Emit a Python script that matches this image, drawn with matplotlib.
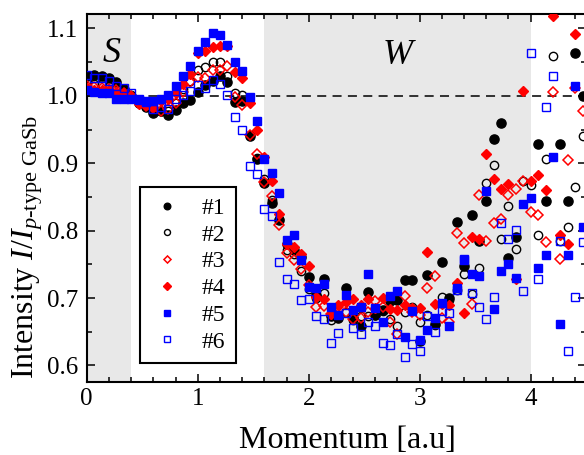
import numpy as np
import matplotlib
import matplotlib.pyplot as plt
from matplotlib.ticker import MultipleLocator, FormatStrFormatter

matplotlib.use('agg')

plt.rcParams['font.family'] = ['Liberation Serif', 'DejaVu Serif']
plt.rcParams['mathtext.fontset'] = 'custom'
plt.rcParams['mathtext.rm'] = 'Liberation Serif'
plt.rcParams['mathtext.it'] = 'Liberation Serif:italic'

nan = np.nan
momentum = np.arange(68) / 15.0

s1 = [1.03, 1.031, 1.03, 1.027, 1.02, 1.01, 1.0, 0.989, 0.983, 0.975,
      0.978, 0.972, 0.979, 0.989, 0.994, 1.005, 1.016, 1.022, 1.029, 1.021,
      0.991, 0.993, 0.94, 0.906, 0.871, 0.841, 0.816, 0.78, 0.771, 0.761,
      0.731, 0.705, 0.729, 0.673, 0.67, 0.715, 0.67, 0.659, 0.709, 0.675,
      0.682, 0.696, 0.697, 0.727, 0.727, 0.636, 0.734, 0.661, 0.753, 0.7,
      0.813, 0.748, 0.823, 0.785, 0.844, 0.936, 0.96, 0.76, 0.791, nan,
      nan, 0.928, 0.844, nan, 0.928, 0.844, 1.064, 1.0]
s2 = [1.02, 1.018, 1.018, 1.015, 1.012, 1.008, 1.002, 0.99, 0.986, 0.98,
      0.978, 0.977, 0.99, 1.01, 1.022, 1.038, 1.043, 1.05, 1.05, 1.03,
      1.004, 1.002, 0.942, 0.908, 0.876, 0.846, 0.817, 0.771, 0.765, 0.74,
      0.713, 0.7, 0.707, 0.668, 0.673, 0.68, 0.667, 0.673, 0.673, 0.675,
      0.681, 0.669, 0.658, 0.679, 0.687, 0.665, 0.675, 0.66, 0.701, 0.697,
      0.712, 0.736, 0.706, 0.744, 0.87, 0.897, 0.788, 0.836, 0.773, 0.873,
      0.867, 0.794, 0.906, 1.059, 0.784, 0.806, 0.865, 0.941]
s3 = [1.015, 1.013, 1.012, 1.01, 1.008, 1.004, 1.0, 0.99, 0.985, 0.982,
      0.978, 0.98, 0.99, 1.006, 1.021, 1.028, 1.026, 1.038, 1.038, 1.044,
      0.998, 0.987, 0.942, 0.914, 0.872, 0.851, 0.808, 0.767, 0.757, 0.743,
      0.72, 0.687, 0.688, 0.677, 0.686, 0.68, 0.669, 0.67, 0.68, 0.695,
      0.686, 0.665, 0.647, 0.703, 0.679, 0.675, 0.715, 0.732, 0.67, 0.664,
      0.796, 0.781, 0.691, 0.853, 0.784, 0.812, 0.818, 0.853, 0.862, 0.874,
      0.828, 0.823, 0.783, 1.005, 0.758, 0.905, 1.012, 0.977]
s4 = [1.012, 1.008, 1.009, 1.008, 1.006, 1.004, 1.0, 0.988, 0.986, 0.984,
      0.992, 0.995, 1.004, 1.018, 1.033, 1.064, 1.066, 1.073, 1.074, 1.074,
      1.036, 1.026, 0.989, 0.949, 0.909, 0.874, 0.824, 0.78, 0.776, 0.765,
      0.748, 0.702, 0.699, 0.676, 0.69, 0.694, 0.699, 0.69, 0.699, 0.685,
      0.7, 0.684, 0.683, 0.69, 0.685, 0.685, 0.769, 0.691, 0.691, 0.69,
      0.723, 0.678, 0.79, 0.787, 0.914, 0.877, 0.862, 0.869, 0.728, 1.007,
      0.874, 0.883, 0.861, 1.118, 0.794, 0.78, 1.092, nan]
s5 = [1.008, 1.005, 1.004, 1.004, 0.996, 0.996, 0.996, 0.995, 0.993, 0.993,
      0.995, 1.002, 1.014, 1.029, 1.044, 1.067, 1.08, 1.093, 1.09, 1.076,
      1.05, 1.037, 0.998, 0.963, 0.906, 0.886, 0.856, 0.786, 0.794, 0.757,
      0.717, 0.715, 0.721, 0.687, 0.675, 0.705, 0.682, 0.686, 0.736, 0.685,
      0.665, 0.703, 0.71, 0.642, 0.681, 0.638, 0.653, 0.67, 0.693, 0.658,
      0.715, 0.757, 0.735, 0.733, 0.859, 0.684, 0.74, 0.75, 0.73, 0.84,
      0.849, 0.745, 0.764, 0.909, 0.661, 0.764, 1.015, 0.806]
s6 = [1.031, 1.026, 1.026, 1.022, 1.014, 1.011, 1.004, 0.994, 0.991, 0.98,
      0.983, 0.981, 0.996, 1.001, 1.007, 1.016, 1.012, 1.023, 1.018, 1.001,
      0.968, 0.949, 0.896, 0.884, 0.832, 0.821, 0.754, 0.728, 0.721, 0.697,
      0.698, 0.674, 0.669, 0.633, 0.648, 0.678, 0.656, 0.646, 0.664, 0.658,
      0.634, 0.63, 0.646, 0.612, 0.632, 0.622, 0.673, 0.649, 0.681, 0.678,
      0.712, 0.758, 0.708, 0.686, 0.669, 0.702, 0.812, 0.787, 0.801, 0.711,
      1.063, 0.728, 0.983, 1.03, 0.784, 0.621, 0.702, 0.783]

series = [s1, s2, s3, s4, s5, s6]
labels = ['#1', '#2', '#3', '#4', '#5', '#6']

fig = plt.figure(figsize=(5.84, 4.55), dpi=100)
ax = fig.add_axes([86.7 / 584, 72.7 / 455, 499.5 / 584, 368 / 455])

ax.axvspan(0, 0.4, color='#e8e8e8', lw=0, zorder=0)
ax.axvspan(1.6, 4.0, color='#e8e8e8', lw=0, zorder=0)
ax.axhline(1.0, color='#222222', lw=1.3, ls=(0, (5, 3.5)), zorder=1)

styles = [
    dict(marker='o', color='black', ms=6.6),
    dict(marker='o', color='black', mfc='none', ms=6.0, mew=1.0),
    dict(marker='D', color='red', mfc='none', ms=5.0, mew=1.1),
    dict(marker='D', color='red', ms=5.2),
    dict(marker='s', color='blue', ms=5.5),
    dict(marker='s', color='blue', mfc='none', ms=5.2, mew=1.0),
]
for y, lab, st in zip(series, labels, styles):
    ax.plot(momentum, y, ls='none', label=lab, zorder=3, **st)

ax.text(0.223, 1.05, 'S', fontsize=26, style='italic', ha='center', va='baseline')
ax.text(2.806, 1.048, 'W', fontsize=26, style='italic', ha='center', va='baseline')

ax.set_xlim(0, 4.5)
ax.set_ylim(0.575, 1.121)
ax.xaxis.set_major_locator(MultipleLocator(1))
ax.xaxis.set_minor_locator(MultipleLocator(0.2))
ax.yaxis.set_major_locator(MultipleLocator(0.1))
ax.yaxis.set_minor_locator(MultipleLocator(0.05))
ax.yaxis.set_major_formatter(FormatStrFormatter('%.1f'))
ax.tick_params(which='both', direction='in', top=True, right=True, labelsize=18, width=1.1)
ax.tick_params(which='major', length=6, pad=6)
ax.tick_params(which='minor', length=3.5)
ax.tick_params(axis='x', which='major', pad=4)
for sp in ax.spines.values():
    sp.set_linewidth(1.5)

leg = ax.legend(loc='lower left', bbox_to_anchor=(0.107, 0.052), borderaxespad=0,
                fontsize=17, markerscale=0.72, fancybox=False, edgecolor='black',
                framealpha=1, labelspacing=0.22, handlelength=1.4, handletextpad=0.75,
                borderpad=0.45)
leg.get_frame().set_linewidth(1.5)

fig.text(347 / 584, 6.5 / 455, 'Momentum [a.u]', fontsize=23, ha='center', va='baseline')
fig.text(33.3 / 584, 0.456, r'Intensity $I/I_{p\text{-type GaSb}}$', fontsize=23,
         rotation=90, rotation_mode='anchor', ha='center', va='baseline')

fig.savefig('out.png', dpi=100)
